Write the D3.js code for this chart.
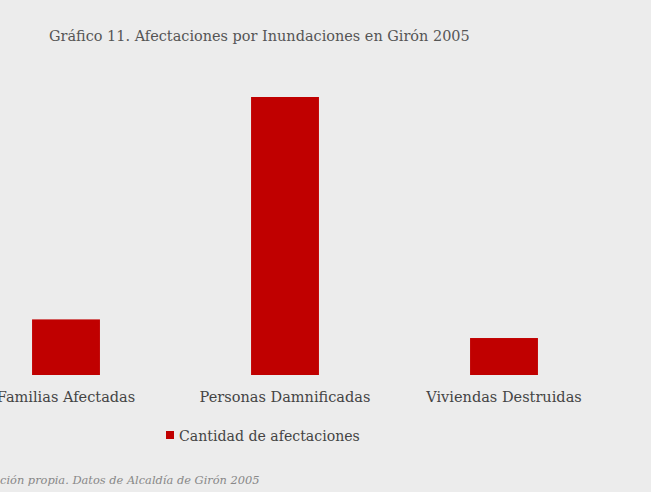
<!DOCTYPE html>
<html>
<head>
<meta charset="utf-8">
<script src="https://cdn.jsdelivr.net/npm/d3@7"></script>
<style>
  html, body { margin: 0; padding: 0; background: #ececec; }
  svg { display: block; }
</style>
</head>
<body>
<script>
const titleText = "Gráfico 11. Afectaciones por Inundaciones en Girón 2005";
const categories = ["Familias Afectadas", "Personas Damnificadas", "Viviendas Destruidas"];
const values = [200, 1000, 133];
const seriesName = "Cantidad de afectaciones";
const sourceText = "ción propia. Datos de Alcaldía de Girón 2005";

const FONT = "DejaVu Serif";
const W = 651, H = 492;
const svg = d3.select("body").append("svg").attr("width", W).attr("height", H)
  .attr("font-family", FONT);
svg.append("rect").attr("width", W).attr("height", H).attr("fill", "#ececec");

const x = d3.scaleBand().domain(categories).range([-43.5, 613.5]).paddingInner(0.69).paddingOuter(0.345);
const y = d3.scaleLinear().domain([0, 1000]).range([375, 97]);

function fit(sel, target, base) {
  sel.attr("font-size", base);
  const w = sel.node().getComputedTextLength();
  const s = base * target / w;
  sel.attr("font-size", s);
  return s;
}

const title = svg.append("text").attr("x", 49).attr("y", 41).attr("fill", "#555")
  .attr("font-family", FONT).text(titleText);
fit(title, 421, 16);

svg.selectAll("rect.bar").data(values).join("rect").attr("class", "bar")
  .attr("x", (d, i) => x(categories[i]))
  .attr("width", x.bandwidth())
  .attr("y", d => y(d))
  .attr("height", d => y(0) - y(d))
  .attr("fill", "#c00000");

const axis = d3.axisBottom(x).tickSize(0).tickPadding(0);
const gx = svg.append("g").attr("transform", "translate(0,375)").call(axis);
gx.select(".domain").remove();
gx.attr("font-family", FONT).attr("font-size", null);
const tickTexts = gx.selectAll("text").attr("fill", "#444").attr("dy", null).attr("y", 27);
const refTick = tickTexts.filter(d => d === "Personas Damnificadas");
const fs = fit(refTick, 171, 16);
tickTexts.attr("font-size", fs);

const lg = svg.append("g");
lg.append("rect").attr("x", 166).attr("y", 431).attr("width", 8).attr("height", 8).attr("fill", "#c00000");
const lt = lg.append("text").attr("x", 179).attr("y", 441).attr("fill", "#444")
  .attr("font-family", FONT).text(seriesName);
fit(lt, 181, 16);

const src = svg.append("text").attr("x", 0).attr("y", 484)
  .attr("font-family", FONT).attr("font-style", "italic").attr("fill", "#888").text(sourceText);
fit(src, 260, 10);
</script>
</body>
</html>
